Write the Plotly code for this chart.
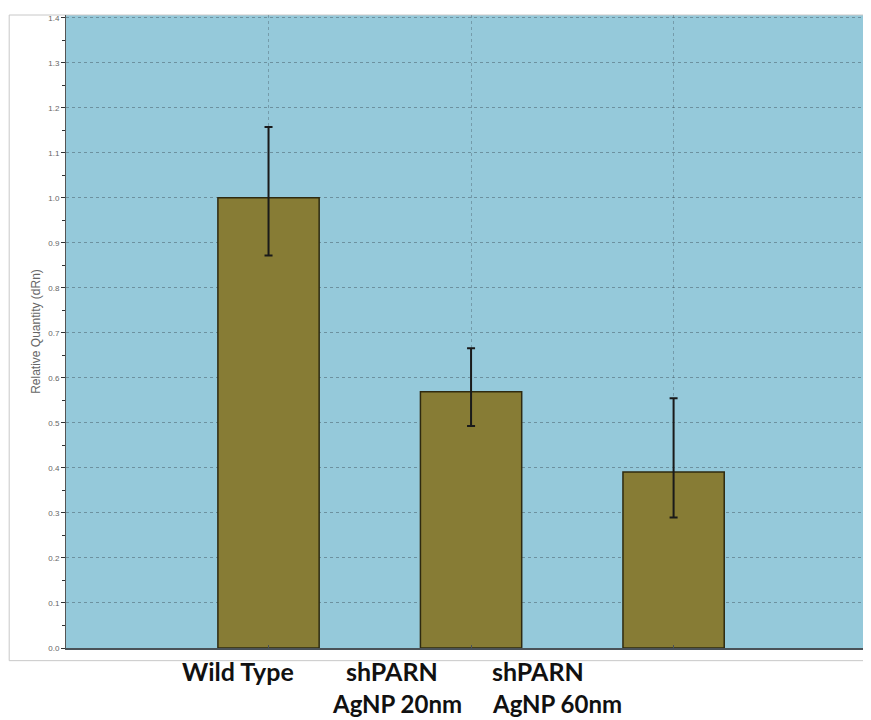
import plotly.graph_objects as go

# groups and relative quantity values
groups = ["Wild Type", "shPARN AgNP 20nm", "shPARN AgNP 60nm"]
rq = [1.0, 0.569, 0.391]
err_up = [0.157, 0.097, 0.164]
err_down = [0.128, 0.076, 0.101]

# text under the bars (two lines, placed like the overlaid labels)
label_line1 = ["Wild Type", "shPARN", "shPARN"]
label_line2 = ["", "AgNP 20nm", "AgNP 60nm"]
shift_line1 = [-89, -127, -184]
shift_line2 = [-89, -141, -184]

y_ticks = [round(i * 0.1, 1) for i in range(15)]

fig = go.Figure()
fig.add_trace(go.Bar(
    x=groups,
    y=rq,
    width=0.5,
    marker=dict(color="#877C35", line=dict(color="#2e2a10", width=1.5)),
    error_y=dict(type="data", symmetric=False, array=err_up, arrayminus=err_down,
                 color="#1a1a1a", thickness=2, width=4),
))

# labels below the axis
for i, g in enumerate(groups):
    fig.add_annotation(x=g, xref="x", y=0, yref="paper", yanchor="top",
                       xanchor="left", xshift=shift_line1[i], yshift=-6,
                       text=label_line1[i], showarrow=False,
                       font=dict(family="Lato", size=25, color="#111111", weight="bold"))
    if label_line2[i]:
        fig.add_annotation(x=g, xref="x", y=0, yref="paper", yanchor="top",
                           xanchor="left", xshift=shift_line2[i], yshift=-39,
                           text=label_line2[i], showarrow=False,
                           font=dict(family="Lato", size=24, color="#111111", weight="bold"))

# faint frame of the original chart image
fig.add_shape(type="rect", xref="paper", yref="paper", x0=-0.071, x1=1.02,
              y0=-0.02, y1=1.0, line=dict(color="#c8c8c8", width=1),
              fillcolor="rgba(0,0,0,0)", layer="below")

# page body has an 8px margin, so the figure is nudged up/left to compensate
fig.update_layout(
    width=871, height=720,
    margin=dict(l=58, r=13, t=7, b=80, autoexpand=False),
    paper_bgcolor="white",
    plot_bgcolor="#95C9DA",
    showlegend=False,
    bargap=0.5,
)
fig.update_xaxes(
    range=[-1, 2.95],
    showticklabels=False,
    showgrid=True, gridcolor="rgba(70,90,100,0.4)", griddash="dot", gridwidth=1,
    showline=True, linecolor="#4a5258", linewidth=2,
    ticks="inside", ticklen=3, tickcolor="#4a5258",
)
fig.update_yaxes(
    range=[0, 1.406],
    tickvals=y_ticks,
    ticktext=[f"{v:.1f}" for v in y_ticks],
    tickfont=dict(family="Arial", size=8, color="#666666"),
    ticks="outside", ticklen=4, tickcolor="#333333",
    minor=dict(dtick=0.05, ticks="outside", ticklen=3, tickcolor="#333333", showgrid=False),
    showgrid=True, gridcolor="rgba(70,90,100,0.5)", griddash="dot", gridwidth=1,
    showline=True, linecolor="#555555", linewidth=1,
    zeroline=False,
    title=dict(text="Relative Quantity (dRn)", standoff=5,
               font=dict(family="Arial", size=12, color="#666666")),
)

fig.write_html("out.html")
